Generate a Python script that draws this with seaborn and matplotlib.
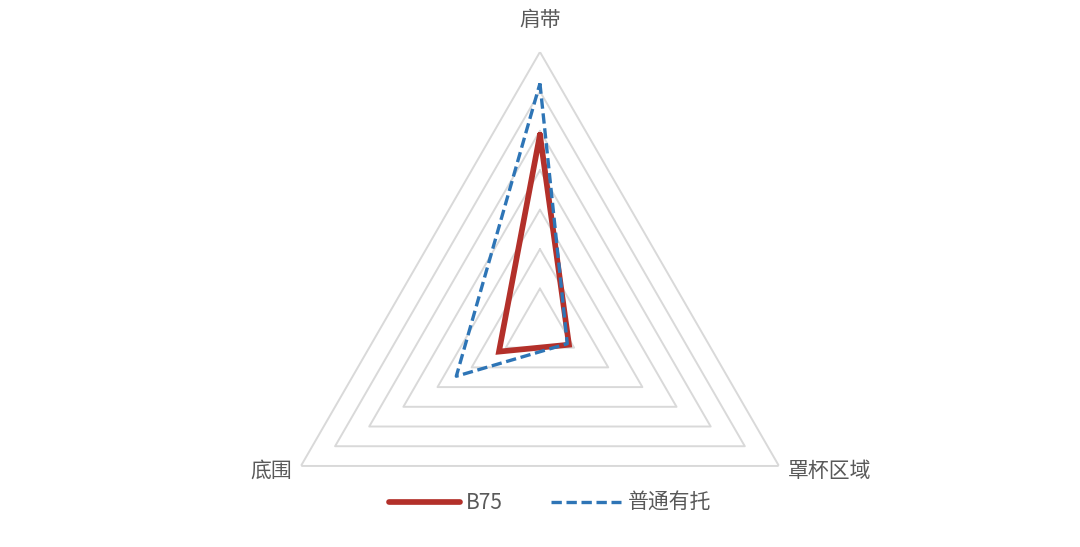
import numpy as np
import pandas as pd
import matplotlib
matplotlib.use("Agg")
import matplotlib.pyplot as plt
import seaborn as sns

# 数据
categories = ["肩带", "罩杯区域", "底围"]
b75_values = [4.9, 0.85, 1.2]
normal_values = [6.2, 0.8, 2.45]
series_names = ["B75", "普通有托"]
ring_levels = [1, 2, 3, 4, 5, 6, 7]

sns.set_theme(style="white")
plt.rcParams["font.family"] = ["Noto Sans CJK SC", "DejaVu Sans"]

text_color = "#595959"
W, H = 1080, 547

theta = np.linspace(0, 2 * np.pi, len(categories), endpoint=False)
theta_closed = np.append(theta, theta[0])

fig = plt.figure(figsize=(W / 100, H / 100), dpi=100)
ax = fig.add_axes([0.2444, -0.1041, 0.5111, 1.0091], projection="polar")
ax.set_theta_offset(np.pi / 2)
ax.set_theta_direction(-1)

# 三角形网格
for lvl in ring_levels:
    ax.plot(theta_closed, [lvl] * len(theta_closed), color="#D9D9D9", lw=1.4, zorder=1)

df = pd.DataFrame({
    "theta": np.concatenate([theta_closed, theta_closed]),
    "value": b75_values + b75_values[:1] + normal_values + normal_values[:1],
    "series": [series_names[0]] * 4 + [series_names[1]] * 4,
})

styles = {
    "B75": dict(color="#B3302A", lw=4.1),
    "普通有托": dict(color="#2E75B6", lw=2.4),
}
handles = []
for name in series_names:
    sub = df[df["series"] == name]
    sns.lineplot(data=sub, x="theta", y="value", sort=False, estimator=None,
                 ax=ax, legend=False, zorder=3, **styles[name])
    line = ax.lines[-1]
    line.set_solid_joinstyle("miter")
    line.set_solid_capstyle("round")
    if name == "普通有托":
        line.set_dashes((3.1, 1.4))
        line.set_dash_capstyle("butt")
    line.set_label(name)
    handles.append(line)

ax.set_ylim(0, 7)
ax.set_xticks([])
ax.set_yticks([])
ax.set_xlabel("")
ax.set_ylabel("")
ax.grid(False)
ax.spines["polar"].set_visible(False)
ax.set_facecolor("white")

# 类别标签
label_pos = {"肩带": (540, 20), "罩杯区域": (830, 471), "底围": (271, 471)}
for cat in categories:
    x, y = label_pos[cat]
    fig.text(x / W, 1 - y / H, cat, ha="center", va="center",
             fontsize=15, color=text_color)

fig.legend(handles, series_names, loc="center", bbox_to_anchor=(550 / W, 1 - 503 / H),
           ncol=2, frameon=False, fontsize=15, handlelength=3.4,
           handletextpad=0.3, columnspacing=2.3, labelcolor=text_color)

fig.savefig("out.png", dpi=100, facecolor="white")
